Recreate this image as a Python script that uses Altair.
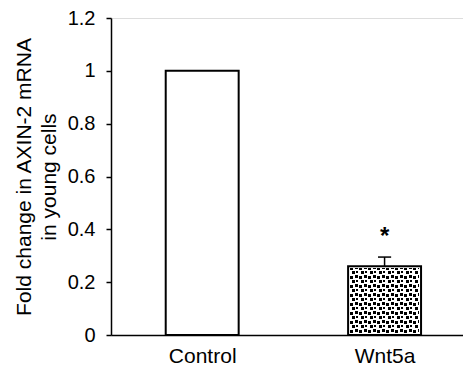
import altair as alt
import pandas as pd

categories = ["Control", "Wnt5a"]
values = [1.0, 0.26]
errors = [0.0, 0.035]
marks = ["", "*"]
patterned = [False, True]

y_ticks = [0, 0.2, 0.4, 0.6, 0.8, 1.0, 1.2]

# layout constants
W, H = 352, 317
XMAX = 1.93
YMAX = 1.2
HALF = 0.2
px_x = W / XMAX
px_y = H / YMAX

pos = [i + 0.5 for i in range(len(categories))]
df = pd.DataFrame({
    "cat": categories, "pos": pos, "value": values, "err": errors, "mark": marks,
})
df["x0"] = df["pos"] - HALF
df["x1"] = df["pos"] + HALF
df["top"] = df["value"] + df["err"]
df["c0"] = df["pos"] - 0.036
df["c1"] = df["pos"] + 0.036

# confetti-like fill texture (9px tile), snapped to whole pixels, clipped to the bar
tile = [(0, 0, 3, 3), (5, 1, 3, 3), (2, 5, 3, 3), (6, 6, 2, 2)]
T = 9
rows = []
for i, r in df.iterrows():
    if not patterned[i]:
        continue
    bx0 = round(r["x0"] * px_x) + 2
    bx1 = round(r["x1"] * px_x) - 2
    by0 = 2
    by1 = round(r["value"] * px_y) - 2
    ty = by0
    while ty < by1:
        tx = bx0
        while tx < bx1:
            for (ox, oy, w, h) in tile:
                sx0 = tx + ox
                sy0 = ty + oy
                sx1 = min(sx0 + w, bx1)
                sy1 = min(sy0 + h, by1)
                if sx0 < bx1 and sy0 < by1:
                    rows.append({"a": sx0 / px_x, "b": sx1 / px_x,
                                 "c": sy0 / px_y, "d": sy1 / px_y})
            tx += T
        ty += T
tex = pd.DataFrame(rows)

label_expr = " : ".join(
    [f"datum.value < {p + 0.5} ? '{c}'" for p, c in zip(pos[:-1], categories[:-1])]
    + [f"'{categories[-1]}'"]
)

FONT = "Liberation Sans"

xscale = alt.Scale(domain=[0, XMAX], nice=False, zero=False)
yscale = alt.Scale(domain=[0, YMAX], nice=False)

base = alt.Chart(df)

bars = base.mark_rect(fill="white", stroke="black", strokeWidth=2).encode(
    x=alt.X("x0:Q", scale=xscale, axis=alt.Axis(
        values=pos, labelExpr=label_expr, ticks=False, grid=False, title=None,
        domainColor="black", domainWidth=1.5, labelFont=FONT, labelFontSize=21,
        labelColor="black", labelPadding=10)),
    x2="x1:Q",
    y=alt.Y("zero:Q", scale=yscale, axis=alt.Axis(
        values=y_ticks, format="~g", grid=False, title=["Fold change in AXIN-2 mRNA", "in young cells"],
        domainColor="black", domainWidth=1.5, tickColor="black", tickSize=5, tickWidth=1.5,
        labelFont=FONT, labelFontSize=20, labelColor="black", labelPadding=11,
        titleFont=FONT, titleFontSize=21, titleFontWeight="normal", titleColor="black",
        titlePadding=8, titleLineHeight=25)),
    y2="value:Q",
).transform_calculate(zero="0")

texture = alt.Chart(tex).mark_rect(fill="black", strokeWidth=0).encode(
    x=alt.X("a:Q", scale=xscale), x2="b:Q",
    y=alt.Y("c:Q", scale=yscale), y2="d:Q",
)

err_rule = base.transform_filter("datum.err > 0").mark_rule(color="black", strokeWidth=1.5).encode(
    x=alt.X("pos:Q", scale=xscale), y=alt.Y("value:Q", scale=yscale), y2="top:Q",
)
err_cap = base.transform_filter("datum.err > 0").mark_rule(color="black", strokeWidth=1.5).encode(
    x=alt.X("c0:Q", scale=xscale), x2="c1:Q", y=alt.Y("top:Q", scale=yscale),
)
stars = base.mark_text(font=FONT, fontSize=24, fontWeight="bold", baseline="middle", dy=-20, color="black").encode(
    x=alt.X("pos:Q", scale=xscale), y=alt.Y("top:Q", scale=yscale), text="mark:N",
)

chart = alt.layer(bars, texture, err_rule, err_cap, stars).properties(
    width=W, height=H, padding={"left": 5, "top": 0, "right": 0, "bottom": 0},
).configure_view(stroke=None).configure(background="white")

chart.save("out.html", embed_options={"renderer": "svg", "actions": False})
